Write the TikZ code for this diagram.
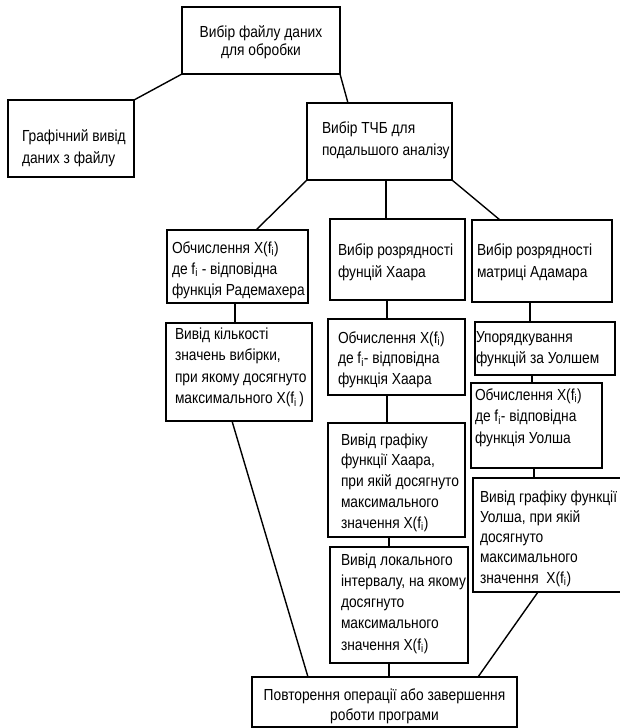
\documentclass[tikz,border=0pt]{standalone}
\usepackage{fontspec}
\setmainfont{Liberation Sans}[FakeStretch=0.86]
\usetikzlibrary{calc}
\newcommand\fs{\fontsize{16pt}{20pt}\selectfont}
\newcommand\ms{\vrule height16pt depth0pt width0pt}
% left-aligned box content: width, height, left pad, first baseline, baselineskip, rows
\newcommand\TL[6]{\makebox[#1][l]{\vbox to #2{\vskip\dimexpr#4-16pt\relax\baselineskip=#5\relax\lineskiplimit=-100pt\halign{\hskip#3\ms##\hfil\cr#6\crcr}\vss}}}
% centred box content: width, height, first baseline, baselineskip, rows
\newcommand\TC[5]{\makebox[#1][c]{\vbox to #2{\vskip\dimexpr#3-16pt\relax\baselineskip=#4\relax\lineskiplimit=-100pt\halign{\hfil\ms##\hfil\cr#5\crcr}\vss}}}
\newcommand\Xf{X(f\textsubscript{i})}
\begin{document}
\begin{tikzpicture}[x=1pt,y=-1pt,
  box/.style={draw, line width=1.5pt, inner sep=0pt, outer sep=0pt, anchor=north west, font=\fs},
  con/.style={line width=1.4pt}]
\fill[white] (0,0) rectangle (620,728);
\useasboundingbox (0,0) rectangle (620,728);

\node[box] (b1) at (182,7) {\TC{158pt}{67pt}{30pt}{18.5pt}{Вибір файлу даних\cr для обробки}};
\node[box] (b2) at (8,100) {\TL{126pt}{77pt}{14pt}{41.7pt}{21.5pt}{Графічний вивід\cr даних з файлу}};
\node[box] (b3) at (307,103) {\TL{145pt}{77pt}{15pt}{30pt}{22pt}{Вибір ТЧБ для\cr подальшого аналізу}};
\node[box] (b4) at (167,230) {\TL{141pt}{73pt}{5pt}{23pt}{21pt}{Обчислення \Xf\cr де f\textsubscript{i} - відповідна\cr функція Радемахера}};
\node[box] (b5) at (330,219) {\TL{135pt}{81pt}{8pt}{36pt}{22pt}{Вибір розрядності\cr фунцій Хаара}};
\node[box] (b6) at (472,220) {\TL{140pt}{82pt}{5pt}{35pt}{22pt}{Вибір розрядності\cr матриці Адамара}};
\node[box] (b7) at (166,323) {\TL{146pt}{98pt}{9pt}{16pt}{21.5pt}{Вивід кількості\cr значень вибірки,\cr при якому досягнуто\cr максимального X(f\textsubscript{i}\,)}};
\node[box] (b8) at (328,319) {\TL{137pt}{76pt}{10pt}{24pt}{20.5pt}{Обчислення \Xf\cr де f\textsubscript{i}- відповідна\cr функція Хаара}};
\node[box] (b9) at (475,322) {\TL{140pt}{53pt}{1pt}{20pt}{21pt}{Упорядкування\cr функцій за Уолшем}};
\node[box] (b10) at (471,383) {\TL{131pt}{85pt}{4pt}{17pt}{21.5pt}{Обчислення \Xf\cr де f\textsubscript{i}- відповідна\cr функція Уолша}};
\node[box] (b11) at (328,423) {\TL{137pt}{114pt}{13pt}{22pt}{20.8pt}{Вивід графіку\cr функції Хаара,\cr при якій досягнуто\cr максимального\cr значення \Xf}};
\node[box] (b12) at (330,547) {\TL{138pt}{116pt}{11pt}{18pt}{21.3pt}{Вивід локального\cr інтервалу, на якому\cr досягнуто\cr максимального\cr значення \Xf}};
\node[box] (b13) at (473,478) {\TL{150pt}{114pt}{7pt}{24pt}{20.3pt}{Вивід графіку функції\cr Уолша, при якій\cr досягнуто\cr максимального\cr значення\ \ \Xf}};
\node[box] (b14) at (252,677) {\TC{265pt}{50pt}{23pt}{20pt}{Повторення операції або завершення\cr роботи програми}};

\draw[con] (b1.south west) -- (b2.north east);
\draw[con] (b1.south east) -- ($(b3.north west)+(41,0)$);
\draw[con] (b3.south west) -- ($(b4.north west)+(89,0)$);
\draw[con] ($(b3.south west)+(79,0)$) -- ($(b5.north west)+(56,0)$);
\draw[con] (b3.south east) -- ($(b6.north west)+(28,0)$);
\draw[con] ($(b4.south west)+(68,0)$) -- ($(b7.north west)+(69,0)$);
\draw[con] ($(b5.south west)+(57,0)$) -- ($(b8.north west)+(59,0)$);
\draw[con] ($(b8.south west)+(59,0)$) -- ($(b11.north west)+(59,0)$);
\draw[con] ($(b11.south west)+(61,0)$) -- ($(b12.north west)+(59,0)$);
\draw[con] ($(b12.south west)+(59,0)$) -- ($(b14.north west)+(137,0)$);
\draw[con] ($(b6.south west)+(58,0)$) -- ($(b9.north west)+(55,0)$);
\draw[con] ($(b9.south west)+(57,0)$) -- ($(b10.north west)+(61,0)$);
\draw[con] ($(b10.south west)+(63,0)$) -- ($(b13.north west)+(61,0)$);
\draw[con] ($(b7.south west)+(66,0)$) -- ($(b14.north west)+(56,0)$);
\draw[con] ($(b13.south west)+(65,0)$) -- ($(b14.north west)+(226,0)$);
\end{tikzpicture}
\end{document}
